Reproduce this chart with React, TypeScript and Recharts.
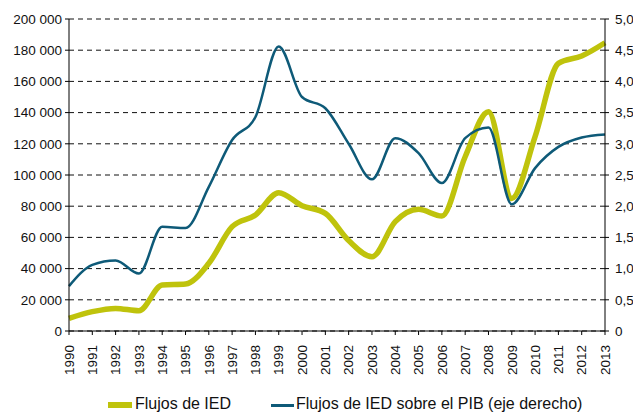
import React from "react";
import { LineChart, Line, XAxis, YAxis, CartesianGrid, Legend } from "recharts";

const years = ["1990","1991","1992","1993","1994","1995","1996","1997","1998","1999","2000","2001","2002","2003","2004","2005","2006","2007","2008","2009","2010","2011","2012","2013"];
const flujosIED = [8100, 12400, 14500, 13000, 29500, 30100, 43400, 66900, 74400, 88700, 80300, 75400, 58000, 47600, 70100, 78000, 73700, 111700, 140600, 85000, 124600, 171600, 176300, 184800];
const flujosPIB = [0.72, 1.06, 1.13, 0.92, 1.67, 1.65, 2.31, 3.06, 3.43, 4.56, 3.75, 3.57, 3.0, 2.43, 3.09, 2.85, 2.37, 3.09, 3.26, 2.03, 2.61, 2.95, 3.1, 3.15];
const leftTicks = [0, 20000, 40000, 60000, 80000, 100000, 120000, 140000, 160000, 180000, 200000];
const rightTicks = [0, 0.5, 1, 1.5, 2, 2.5, 3, 3.5, 4, 4.5, 5];
const seriesNames = ["Flujos de IED", "Flujos de IED sobre el PIB (eje derecho)"];

const YELLOW = "#bfc30c";
const BLUE = "#0e5a78";
const FONT = "'Liberation Sans', Arial, sans-serif";

const data = years.map((y, i) => ({ year: y, ied: flujosIED[i], pib: flujosPIB[i] }));

const fmtLeft = (v: number) => (v === 0 ? "0" : v.toLocaleString("en-US").replace(/,/g, " "));
const fmtRight = (v: number) => (v === 0 ? "0" : v.toFixed(1).replace(".", ","));

const XTick = (props: any) => {
  const { x, payload } = props;
  const y = 345;
  return (
    <text
      x={x}
      y={y}
      transform={`rotate(-90, ${x}, ${y})`}
      textAnchor="end"
      dy="0.35em"
      fontSize={13.5}
      fontFamily={FONT}
      fill="#111"
    >
      {payload.value}
    </text>
  );
};

const LegendContent = () => (
  <div style={{ position: "relative", height: 30, fontFamily: FONT, fontSize: 16, color: "#111" }}>
    <div style={{ position: "absolute", left: 108, top: 16, width: 24, height: 6, background: YELLOW }} />
    <div style={{ position: "absolute", left: 135, top: 9, lineHeight: "18px", whiteSpace: "nowrap" }}>{seriesNames[0]}</div>
    <div style={{ position: "absolute", left: 271, top: 18, width: 23, height: 3, background: BLUE }} />
    <div style={{ position: "absolute", left: 296, top: 9, lineHeight: "18px", whiteSpace: "nowrap" }}>{seriesNames[1]}</div>
  </div>
);

export default function App() {
  return (
    <div style={{ position: "absolute", left: 0, top: 0, width: 633, height: 416, background: "#fff" }}>
      <LineChart width={633} height={416} data={data} margin={{ top: 19, right: 0, bottom: 0, left: 0 }}>
        <CartesianGrid horizontal vertical={false} stroke="#111" strokeDasharray="5 4" yAxisId="left" />
        <XAxis
          dataKey="year"
          interval={0}
          height={55}
          tickSize={4}
          tick={<XTick />}
          axisLine={{ stroke: "#000" }}
          tickLine={{ stroke: "#000" }}
        />
        <YAxis
          yAxisId="left"
          orientation="left"
          domain={[0, 200000]}
          ticks={leftTicks}
          width={69}
          tickSize={4}
          tickMargin={3}
          tickFormatter={fmtLeft}
          tick={{ fontSize: 13.5, fontFamily: FONT, fill: "#111" }}
          axisLine={{ stroke: "#000" }}
          tickLine={{ stroke: "#000" }}
          interval={0}
        />
        <YAxis
          yAxisId="right"
          orientation="right"
          domain={[0, 5]}
          ticks={rightTicks}
          width={28}
          tickSize={4}
          tickMargin={6}
          tickFormatter={fmtRight}
          tick={{ fontSize: 13.5, fontFamily: FONT, fill: "#111" }}
          axisLine={{ stroke: "#000" }}
          tickLine={{ stroke: "#000" }}
          interval={0}
        />
        <Legend verticalAlign="bottom" height={30} content={<LegendContent />} />
        <Line
          yAxisId="left"
          type="monotone"
          dataKey="ied"
          name={seriesNames[0]}
          stroke={YELLOW}
          strokeWidth={5.5}
          dot={false}
          isAnimationActive={false}
        />
        <Line
          yAxisId="right"
          type="monotone"
          dataKey="pib"
          name={seriesNames[1]}
          stroke={BLUE}
          strokeWidth={2.5}
          dot={false}
          isAnimationActive={false}
        />
      </LineChart>
    </div>
  );
}
